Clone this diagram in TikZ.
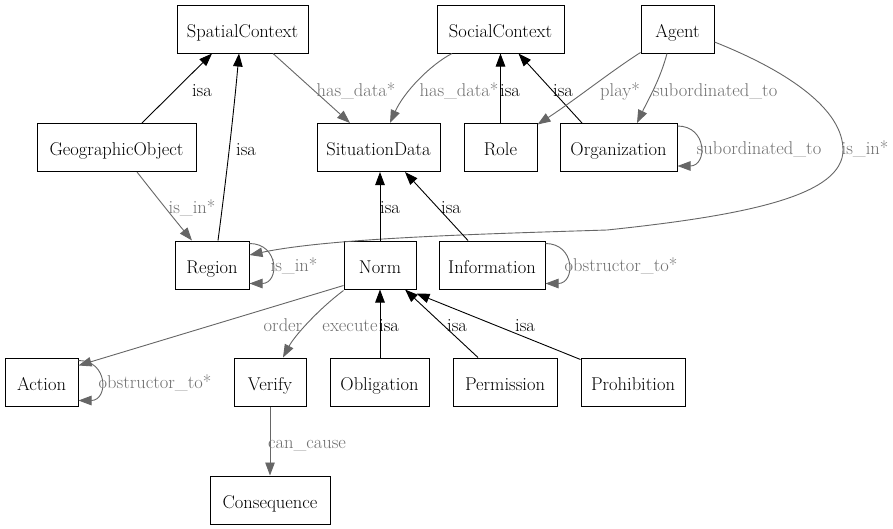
\documentclass[tikz,border=0pt]{standalone}
\usepackage{fontspec}
\usetikzlibrary{arrows.meta}
\definecolor{edgegray}{HTML}{666666}
\definecolor{labgray}{HTML}{707070}
\newcommand{\tmsfont}{\rmfamily}
\tikzset{
  box/.style={draw=black, line width=1pt, minimum height=48pt, inner sep=0pt, text height=16pt, text depth=0pt, font=\tmsfont\fontsize{18.5pt}{21pt}\selectfont, text=black},
  isaedge/.style={draw=black, line width=0.9pt, -{Triangle[length=13pt,width=9.5pt]}},
  gedge/.style={draw=edgegray, line width=0.9pt, -{Triangle[length=13pt,width=9.5pt]}},
  isalab/.style={inner sep=0pt, anchor=base, font=\tmsfont\fontsize{18.5pt}{21pt}\selectfont, text=black},
  glab/.style={inner sep=0pt, anchor=base, font=\tmsfont\fontsize{18.5pt}{21pt}\selectfont, text=labgray},
}
\begin{document}
\begin{tikzpicture}[x=1pt,y=-1pt]
\useasboundingbox[fill=white] (0,0) rectangle (893,528);
% nodes
\node[box, minimum width=131pt] (Spatial) at (242.5,29) {SpatialContext};
\node[box, minimum width=127pt] (Social) at (500.5,29) {SocialContext};
\node[box, minimum width=73pt] (Agent) at (677.5,29) {Agent};
\node[box, minimum width=159pt] (Geo) at (116.5,147.5) {GeographicObject};
\node[box, minimum width=123pt] (SitData) at (378.5,147.5) {SituationData};
\node[box, minimum width=73pt] (Role) at (500.5,147.5) {Role};
\node[box, minimum width=117pt] (Org) at (618.5,147.5) {Organization};
\node[box, minimum width=74pt] (Region) at (212,265) {Region};
\node[box, minimum width=72pt] (Norm) at (380,265) {Norm};
\node[box, minimum width=106pt] (Info) at (492,265) {Information};
\node[box, minimum width=73pt] (Action) at (41.5,382) {Action};
\node[box, minimum width=72pt] (Verify) at (270,382) {Verify};
\node[box, minimum width=99pt] (Oblig) at (379.5,382) {Obligation};
\node[box, minimum width=104pt] (Perm) at (505,382) {Permission};
\node[box, minimum width=104pt] (Prohib) at (633,382) {Prohibition};
\node[box, minimum width=120pt] (Conseq) at (270,500) {Consequence};

% edges
\draw[isaedge] ([xshift=25.5pt]Geo.north) -- ([xshift=-30.5pt]Spatial.south);
\draw[isaedge] ([xshift=6pt]Region.north) .. controls (226,180) and (234,110) .. ([xshift=-3.5pt]Spatial.south);
\draw[gedge] ([xshift=30.5pt]Spatial.south) -- ([xshift=-28.5pt]SitData.north);
\draw[gedge] ([xshift=-48.5pt]Social.south) .. controls (430,65) and (404,92) .. ([xshift=11.5pt]SitData.north);
\draw[isaedge] (Role.north) -- (Social.south);
\draw[isaedge] ([xshift=-36.5pt]Org.north) -- ([xshift=18pt]Social.south);
\draw[gedge] ([yshift=1pt]Agent.south west) .. controls (610,72) and (575,100) .. ([yshift=-1.5pt]Role.north east);
\draw[gedge] ([xshift=-10.5pt]Agent.south) .. controls (660,80) and (648,100) .. ([xshift=18.5pt]Org.north);
\draw[gedge] ([yshift=-3pt]Org.north east) .. controls +(30pt,0pt) and +(30pt,0pt) .. ([yshift=6pt]Org.south east);
\draw[gedge] ([yshift=-13pt]Agent.east) .. controls (790,72) and (843,110) .. (843,150)
   .. controls (843,195) and (750,215) .. (607,230)
   .. controls (480,234) and (330,238) .. ([yshift=10pt]Region.east);
\draw[gedge] ([xshift=20.5pt]Geo.south) .. controls (155,195) and (175,220) .. ([xshift=-20pt]Region.north);
\draw[gedge] ([yshift=-3pt]Region.north east) .. controls +(30pt,0pt) and +(30pt,0pt) .. ([yshift=6pt]Region.south east);
\draw[isaedge] (Norm.north) -- ([xshift=1.5pt]SitData.south);
\draw[isaedge] ([xshift=-24pt]Info.north) -- ([xshift=26.5pt]SitData.south);
\draw[gedge] ([yshift=-3pt]Info.north east) .. controls +(30pt,0pt) and +(30pt,0pt) .. ([yshift=6pt]Info.south east);
\draw[gedge] ([yshift=4pt]Norm.south west) -- ([yshift=-8pt]Action.north east);
\draw[gedge] ([yshift=-1pt]Norm.south west) .. controls (320,308) and (295,335) .. ([xshift=13pt]Verify.north);
\draw[gedge] (Verify.south) -- (Conseq.north);
\draw[isaedge] ([xshift=0.5pt]Oblig.north) -- (Norm.south);
\draw[isaedge] ([xshift=-27pt]Perm.north) -- ([xshift=25pt]Norm.south);
\draw[isaedge] ([yshift=-2pt]Prohib.north west) -- ([yshift=-4pt]Norm.south east);
\draw[gedge] ([yshift=-3pt]Action.north east) .. controls +(30pt,0pt) and +(30pt,0pt) .. ([yshift=6pt]Action.south east);

% labels (baseline positions)
\node[isalab] (l1) at (202,96) {isa};
\node[isalab] (l2) at (246,155) {isa};
\node[glab] (l3) at (356,96) {has\_data*};
\node[glab] (l4) at (459,96) {has\_data*};
\node[isalab] (l5) at (510,96) {isa};
\node[isalab] (l6) at (563,96) {isa};
\node[glab] (l7) at (620,96) {play*};
\node[glab] (l8) at (715,96) {subordinated\_to};
\node[glab] (l9) at (759,154) {subordinated\_to};
\node[glab] (l10) at (865,154) {is\_in*};
\node[glab] (l11) at (192,213) {is\_in*};
\node[glab] (l12) at (294,271) {is\_in*};
\node[isalab] (l13) at (390,213) {isa};
\node[isalab] (l14) at (451,213) {isa};
\node[glab] (l15) at (621,271) {obstructor\_to*};
\node[glab] (l16) at (283,331) {order};
\node[glab] (l17) at (350,331) {execute};
\node[isalab] (l18) at (389,331) {isa};
\node[isalab] (l19) at (457,331) {isa};
\node[isalab] (l20) at (525,331) {isa};
\node[glab] (l21) at (307,448) {can\_cause};
\node[glab] (l22) at (155,388) {obstructor\_to*};
\end{tikzpicture}
\end{document}
